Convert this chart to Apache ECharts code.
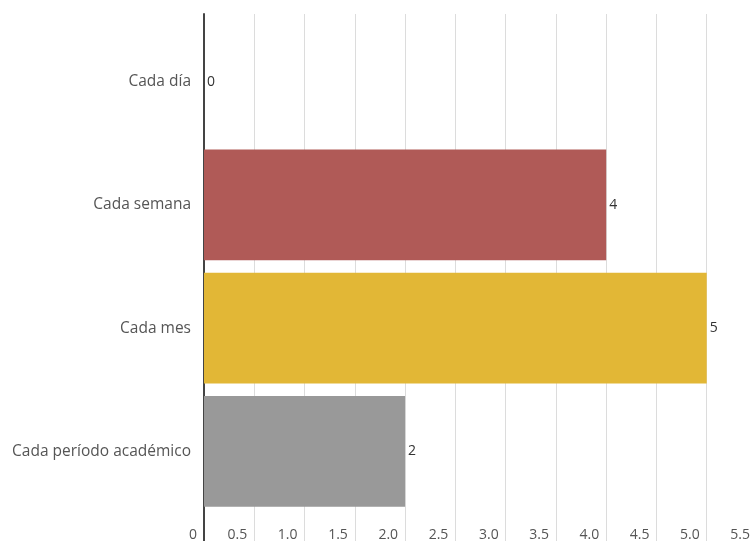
<!DOCTYPE html>
<html>
<head>
<meta charset="utf-8">
<script src="https://cdn.jsdelivr.net/npm/echarts@6/dist/echarts.min.js"></script>
<style>
  html, body { margin: 0; padding: 0; background: #fff; }
  #chart { width: 753px; height: 541px; }
</style>
</head>
<body>
<div id="chart"></div>
<script>
let categories = ['Cada día', 'Cada semana', 'Cada mes', 'Cada período académico'];
let values = [0, 4, 5, 2];
let barColors = ['#3b6fb6', '#b05a57', '#e2b736', '#999999'];

var myChart = echarts.init(document.getElementById('chart'));

let font = '"Open Sans", "Noto Sans", sans-serif';

let option = {
    animation: false,
    grid: [
        // bars
        { left: 204, right: -4, top: 20, bottom: 28, outerBoundsMode: 'none', containLabel: false },
        // split lines, value labels and the axis line
        { left: 204, right: -4, top: 14, bottom: -6, outerBoundsMode: 'none', containLabel: false }
    ],
    xAxis: [
        { gridIndex: 0, type: 'value', min: 0, max: 5.5, show: false },
        {
            gridIndex: 1,
            type: 'value',
            min: 0,
            max: 5.5,
            interval: 0.5,
            axisLine: { show: false },
            axisTick: { show: false },
            splitLine: { show: true, lineStyle: { color: '#dcdcdc', width: 1 } },
            axisLabel: {
                inside: true,
                margin: 5,
                align: 'right',
                padding: [0, 7, 0, 0],
                color: '#555',
                fontSize: 14,
                fontFamily: font,
                formatter: function (v) {
                    return v === 0 ? '0' : v.toFixed(1);
                }
            }
        }
    ],
    yAxis: [
        {
            gridIndex: 0,
            type: 'category',
            inverse: true,
            data: categories,
            axisLine: { show: false },
            axisTick: { show: false },
            axisLabel: {
                margin: 13,
                color: '#555',
                fontSize: 15.5,
                fontFamily: font
            }
        },
        {
            gridIndex: 1,
            type: 'value',
            axisLine: { show: true, lineStyle: { color: '#444', width: 2 } },
            axisTick: { show: false },
            axisLabel: { show: false },
            splitLine: { show: false }
        }
    ],
    series: [{
        type: 'bar',
        xAxisIndex: 0,
        yAxisIndex: 0,
        barCategoryGap: '10%',
        data: values.map(function (v, i) {
            return { value: v, itemStyle: { color: barColors[i] } };
        }),
        label: {
            show: true,
            position: 'right',
            distance: 3,
            color: '#333',
            fontSize: 14,
            fontFamily: font
        }
    }]
};

myChart.setOption(option);
</script>
</body>
</html>
